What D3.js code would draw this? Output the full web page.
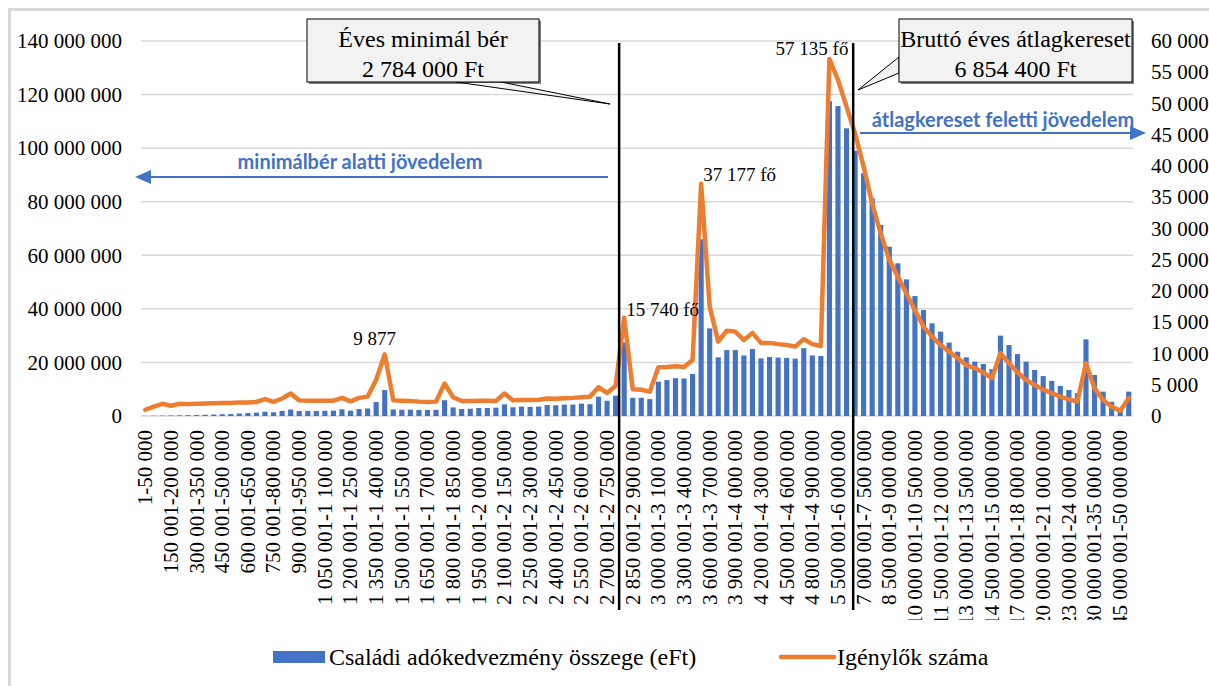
<!DOCTYPE html>
<html><head><meta charset="utf-8">
<script src="https://cdn.jsdelivr.net/npm/d3@7"></script>
<style>body{margin:0;background:#fff}</style>
</head><body><svg id="c" width="1209" height="686"></svg>
<script>
const categories = [
"1-50 000","50 001-100 000","100 001-150 000","150 001-200 000","200 001-250 000","250 001-300 000","300 001-350 000","350 001-400 000","400 001-450 000","450 001-500 000","500 001-550 000","550 001-600 000","600 001-650 000","650 001-700 000","700 001-750 000","750 001-800 000","800 001-850 000","850 001-900 000","900 001-950 000","950 001-1 000 000",
"1 000 001-1 050 000","1 050 001-1 100 000","1 100 001-1 150 000","1 150 001-1 200 000","1 200 001-1 250 000","1 250 001-1 300 000","1 300 001-1 350 000","1 350 001-1 400 000","1 400 001-1 450 000","1 450 001-1 500 000","1 500 001-1 550 000","1 550 001-1 600 000","1 600 001-1 650 000","1 650 001-1 700 000","1 700 001-1 750 000","1 750 001-1 800 000","1 800 001-1 850 000","1 850 001-1 900 000","1 900 001-1 950 000","1 950 001-2 000 000",
"2 000 001-2 050 000","2 050 001-2 100 000","2 100 001-2 150 000","2 150 001-2 200 000","2 200 001-2 250 000","2 250 001-2 300 000","2 300 001-2 350 000","2 350 001-2 400 000","2 400 001-2 450 000","2 450 001-2 500 000","2 500 001-2 550 000","2 550 001-2 600 000","2 600 001-2 650 000","2 650 001-2 700 000","2 700 001-2 750 000","2 750 001-2 800 000","2 800 001-2 850 000","2 850 001-2 900 000","2 900 001-2 950 000","2 950 001-3 000 000",
"3 000 001-3 100 000","3 100 001-3 200 000","3 200 001-3 300 000","3 300 001-3 400 000","3 400 001-3 500 000","3 500 001-3 600 000","3 600 001-3 700 000","3 700 001-3 800 000","3 800 001-3 900 000","3 900 001-4 000 000","4 000 001-4 100 000","4 100 001-4 200 000","4 200 001-4 300 000","4 300 001-4 400 000","4 400 001-4 500 000","4 500 001-4 600 000","4 600 001-4 700 000","4 700 001-4 800 000","4 800 001-4 900 000","4 900 001-5 000 000",
"5 000 001-5 500 000","5 500 001-6 000 000","6 000 001-6 500 000","6 500 001-7 000 000","7 000 001-7 500 000","7 500 001-8 000 000","8 000 001-8 500 000","8 500 001-9 000 000","9 000 001-9 500 000","9 500 001-10 000 000","10 000 001-10 500 000","10 500 001-11 000 000","11 000 001-11 500 000","11 500 001-12 000 000","12 000 001-12 500 000","12 500 001-13 000 000","13 000 001-13 500 000","13 500 001-14 000 000","14 000 001-14 500 000","14 500 001-15 000 000",
"15 000 001-16 000 000","16 000 001-17 000 000","17 000 001-18 000 000","18 000 001-19 000 000","19 000 001-20 000 000","20 000 001-21 000 000","21 000 001-22 000 000","22 000 001-23 000 000","23 000 001-24 000 000","24 000 001-25 000 000","25 000 001-30 000 000","30 000 001-35 000 000","35 000 001-40 000 000","40 000 001-45 000 000","45 000 001-50 000 000","50 000 001-"
];
// Családi adókedvezmény összege (left axis)
const amounts = [
50000,100000,150000,200000,250000,300000,380000,450000,550000,650000,
750000,950000,1100000,1250000,1600000,1400000,1900000,2400000,1900000,1900000,
1900000,1950000,2000000,2500000,2000000,2600000,2800000,5200000,9700000,2450000,
2350000,2350000,2250000,2250000,2300000,5900000,3200000,2600000,2700000,3000000,
3000000,3100000,4350000,3250000,3500000,3400000,3500000,4100000,4000000,4250000,
4250000,4600000,4400000,7200000,5700000,7600000,27500000,6800000,6800000,6300000,
12800000,13400000,14100000,14000000,15700000,66000000,32700000,21900000,24600000,24600000,
22600000,25000000,21500000,22000000,21800000,21700000,21400000,25300000,22600000,22400000,
117500000,115700000,107400000,99000000,90600000,81300000,71300000,63200000,57000000,51000000,
44800000,39600000,34600000,31500000,27400000,24000000,21900000,20300000,19400000,17500000,
30000000,26500000,23100000,20300000,17200000,14900000,13100000,11200000,9700000,8500000,
28600000,15300000,9100000,5300000,2900000,9100000
];
// Igénylők száma (right axis)
const claimants = [
1000,1500,1950,1650,1950,1900,1950,2000,2050,2100,
2100,2150,2150,2250,2700,2250,2800,3600,2500,2450,
2450,2450,2450,2900,2350,2900,3100,5800,9877,2500,
2450,2400,2300,2250,2300,5200,3000,2400,2400,2450,
2450,2400,3600,2500,2550,2550,2600,2800,2750,2850,
2900,3000,3100,4600,3700,4800,15740,4270,4200,3900,
7800,7850,7950,7850,8950,37177,17500,11900,13650,13500,
12150,13300,11700,11700,11500,11350,11100,12300,11500,11200,
57135,53760,49500,45200,39900,34000,29200,25000,22300,19600,
16950,14300,12700,11350,10300,9250,8150,7650,6950,6050,
10050,8450,6950,5750,4950,4250,3650,3100,2650,2300,
8450,4450,2550,1500,850,2850
];
const leftTicks = [0,20000000,40000000,60000000,80000000,100000000,120000000,140000000];
const rightTicks = [0,5000,10000,15000,20000,25000,30000,35000,40000,45000,50000,55000,60000];
const pointLabels = [
  {cat:"1 400 001-1 450 000", text:"9 877", anchor:"middle", dx:-10, dy:-9},
  {cat:"2 800 001-2 850 000", text:"15 740 fő", anchor:"start", dx:2, dy:-2},
  {cat:"3 500 001-3 600 000", text:"37 177 fő", anchor:"start", dx:2, dy:-3},
  {cat:"5 000 001-5 500 000", text:"57 135 fő", anchor:"end", dx:19, dy:-4}
];
const legendItems = ["Családi adókedvezmény összege (eFt)", "Igénylők száma"];

const svg = d3.select("#c");
const serif = "'Liberation Serif','Times New Roman',serif";
const L = 141, R = 1133, T = 41, B = 416;
const blue = "#4472c4", orange = "#ed7d31";

const x = d3.scaleBand().domain(categories).range([L, R]).paddingInner(0.4).paddingOuter(0.2);
const yL = d3.scaleLinear().domain([0, 140000000]).range([B, T]);
const yR = d3.scaleLinear().domain([0, 60000]).range([B, T]);
const fmt = v => d3.format(",")(v).replace(/,/g, " ");
const cx = c => x(c) + x.bandwidth() / 2;

// frame
svg.append("rect").attr("x",0).attr("y",0).attr("width",1209).attr("height",686).attr("fill","#fff");
svg.append("line").attr("x1",9.5).attr("x2",9.5).attr("y1",8).attr("y2",686).attr("stroke","#d9d9d9").attr("stroke-width",3);
svg.append("line").attr("x1",8).attr("x2",1209).attr("y1",9.5).attr("y2",9.5).attr("stroke","#d9d9d9").attr("stroke-width",3);

// grid
svg.append("g").selectAll("line").data(leftTicks).join("line")
  .attr("x1", L).attr("x2", R).attr("y1", d => yL(d)).attr("y2", d => yL(d))
  .attr("stroke", "#d9d9d9").attr("stroke-width", 1.5);

// left axis
const gL = svg.append("g").attr("transform", `translate(${L},0)`)
  .call(d3.axisLeft(yL).tickValues(leftTicks).tickFormat(fmt).tickSize(0).tickPadding(19));
gL.select(".domain").remove();
gL.attr("font-family", null).attr("font-size", null);
gL.selectAll("text").style("font-family", serif).style("font-size", "21px").attr("fill", "#000");

// right axis
const gR = svg.append("g").attr("transform", `translate(${R},0)`)
  .call(d3.axisRight(yR).tickValues(rightTicks).tickFormat(fmt).tickSize(0).tickPadding(18));
gR.select(".domain").remove();
gR.attr("font-family", null).attr("font-size", null);
gR.selectAll("text").style("font-family", serif).style("font-size", "21px").attr("fill", "#000");

// bars
svg.append("g").selectAll("rect").data(categories).join("rect")
  .attr("x", d => x(d)).attr("width", x.bandwidth())
  .attr("y", (d, i) => yL(amounts[i])).attr("height", (d, i) => B - yL(amounts[i]))
  .attr("fill", blue);

// x labels (clipped at the bottom like the original)
svg.append("defs").append("clipPath").attr("id","lc").append("rect")
  .attr("x",0).attr("y",420).attr("width",1209).attr("height",200);
const clipG = svg.append("g").attr("clip-path","url(#lc)");
const gX = clipG.append("g").attr("transform", `translate(0,${B})`)
  .call(d3.axisBottom(x).tickValues(categories.filter((d, i) => i % 3 === 0)).tickSize(0).tickPadding(0));
gX.select(".domain").remove();
gX.attr("font-family", null).attr("font-size", null);
gX.selectAll("text").style("font-family", serif).style("font-size", "21px").attr("fill", "#000")
  .attr("text-anchor", "end").attr("transform", "rotate(-90)").attr("x", -14).attr("y", 0).attr("dy", "0.33em");

// line
const line = d3.line().x((d, i) => cx(categories[i])).y(d => yR(d));
svg.append("path").datum(claimants).attr("d", line).attr("fill", "none")
  .attr("stroke", orange).attr("stroke-width", 4.5).attr("stroke-linejoin", "round").attr("stroke-linecap","round");

// point labels
svg.append("g").selectAll("text").data(pointLabels).join("text")
  .attr("x", d => cx(d.cat) + d.dx)
  .attr("y", d => yR(claimants[categories.indexOf(d.cat)]) + d.dy)
  .attr("text-anchor", d => d.anchor)
  .style("font-family", serif).style("font-size", "19px").attr("fill", "#000").text(d => d.text);

// vertical reference lines
const refLines = [{cat:"2 750 001-2 800 000", off:0.41}, {cat:"6 500 001-7 000 000", off:-0.22}];
svg.append("g").selectAll("line").data(refLines).join("line")
  .attr("x1", d => cx(d.cat) + d.off * x.step()).attr("x2", d => cx(d.cat) + d.off * x.step())
  .attr("y1", 43).attr("y2", 610).attr("stroke", "#000").attr("stroke-width", 2.5);

// arrows
function arrow(x1, x2, y) {
  const dir = Math.sign(x2 - x1);
  svg.append("line").attr("x1", x1).attr("x2", x2 - dir * 14).attr("y1", y).attr("y2", y)
    .attr("stroke", blue).attr("stroke-width", 2);
  svg.append("path").attr("d", `M${x2},${y} L${x2 - dir * 16},${y - 7} L${x2 - dir * 16},${y + 7} Z`).attr("fill", blue);
}
arrow(608, 135, 177);
arrow(860, 1146, 133);
const sans = "Lato,'Open Sans',sans-serif";
svg.append("text").attr("x", 360).attr("y", 169).attr("text-anchor", "middle")
  .style("font-family", sans).style("font-weight", 700).style("font-size", "20px").attr("fill", blue)
  .text("minimálbér alatti jövedelem");
svg.append("text").attr("x", 1003).attr("y", 127).attr("text-anchor", "middle")
  .style("font-family", sans).style("font-weight", 700).style("font-size", "20px").attr("fill", blue)
  .text("átlagkereset feletti jövedelem");

// callouts
function callout(bx, by, bw, bh, tail, lines) {
  const g = svg.append("g");
  g.append("rect").attr("x", bx + 2).attr("y", by + 2).attr("width", bw).attr("height", bh).attr("fill", "#7f7f7f");
  g.append("path").attr("d", tail).attr("fill", "#f2f2f2").attr("stroke", "#000").attr("stroke-width", 1);
  g.append("rect").attr("x", bx).attr("y", by).attr("width", bw).attr("height", bh)
    .attr("fill", "#f2f2f2").attr("stroke", "#000").attr("stroke-width", 1);
  lines.forEach((t, k) => g.append("text").attr("x", bx + bw / 2).attr("y", by + 28 + k * 30)
    .attr("text-anchor", "middle").style("font-family", serif).style("font-size", "24px").attr("fill", "#000").text(t));
}
callout(307, 19, 232, 63, "M456,82 L610,104 L501,82 Z", ["Éves minimál bér", "2 784 000 Ft"]);
callout(899, 19, 233, 63, "M899,57 L858,90 L899,73 Z", ["Bruttó éves átlagkereset", "6 854 400 Ft"]);

// legend
const lg = svg.append("g");
lg.append("rect").attr("x", 273).attr("y", 651).attr("width", 52).attr("height", 12).attr("fill", blue);
lg.append("text").attr("x", 329).attr("y", 665).style("font-family", serif).style("font-size", "24px").text(legendItems[0]);
lg.append("line").attr("x1", 781).attr("x2", 834).attr("y1", 657).attr("y2", 657)
  .attr("stroke", orange).attr("stroke-width", 4.5).attr("stroke-linecap","round");
lg.append("text").attr("x", 837).attr("y", 665).style("font-family", serif).style("font-size", "24px").text(legendItems[1]);
</script></body></html>
